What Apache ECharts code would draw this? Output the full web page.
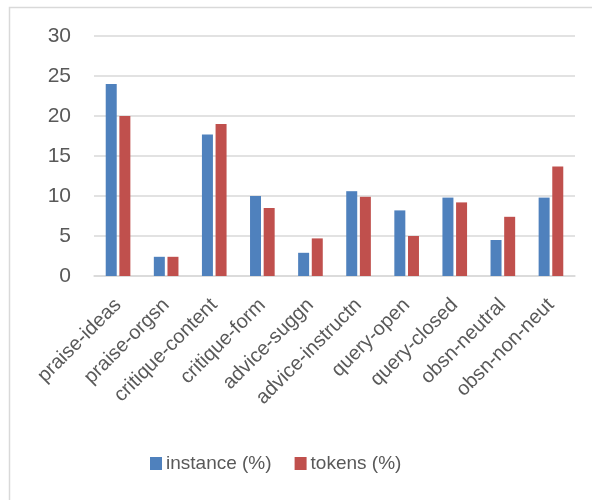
<!DOCTYPE html>
<html><head><meta charset="utf-8">
<script src="https://cdn.jsdelivr.net/npm/echarts@6/dist/echarts.min.js"></script>
<style>html,body{margin:0;padding:0;background:#fff}#c{width:592px;height:500px}</style>
</head><body><div id="c"></div>
<script>
const categories = ['praise-ideas','praise-orgsn','critique-content','critique-form','advice-suggn','advice-instructn','query-open','query-closed','obsn-neutral','obsn-non-neut'];
const instance = [24.0, 2.4, 17.7, 10.0, 2.9, 10.6, 8.2, 9.8, 4.5, 9.8];
const tokens = [20.0, 2.4, 19.0, 8.5, 4.7, 9.9, 5.0, 9.2, 7.4, 13.7];
const seriesNames = ['instance (%)', 'tokens (%)'];

const chart = echarts.init(document.getElementById('c'), null, {renderer:'canvas'});
const font = 'Liberation Sans, Arial, sans-serif';
chart.setOption({
  animation:false,
  backgroundColor:'#fff',
  graphic:[{type:'polyline', shape:{points:[[9.5,510],[9.5,7.5],[600,7.5]]}, style:{stroke:'#d9d9d9', lineWidth:1.5, fill:null}, silent:true}],
  legend:{
    left:150, top:454, padding:0, itemWidth:12, itemHeight:13, itemGap:23,
    icon:'rect',
    textStyle:{fontFamily:font, fontSize:19, color:'#595959', padding:[0,0,0,-1]},
    data:seriesNames
  },
  grid:{left:94, right:17, top:36, bottom:224},
  xAxis:{
    type:'category', data:categories,
    axisLine:{lineStyle:{color:'#d9d9d9', width:1.5}},
    axisTick:{show:false},
    axisLabel:{rotate:45, interval:0, fontFamily:font, fontSize:20, color:'#595959', margin:26}
  },
  yAxis:{
    type:'value', min:0, max:30, interval:5,
    axisLine:{show:false}, axisTick:{show:false},
    splitLine:{lineStyle:{color:'#d9d9d9', width:1.5}},
    axisLabel:{fontFamily:font, fontSize:21, color:'#595959', margin:23}
  },
  series:[
    {name:seriesNames[0], type:'bar', data:instance, barWidth:11, barGap:'24%', itemStyle:{color:'#4F81BD'}},
    {name:seriesNames[1], type:'bar', data:tokens, barWidth:11, itemStyle:{color:'#C0504D'}}
  ]
});
</script></body></html>
